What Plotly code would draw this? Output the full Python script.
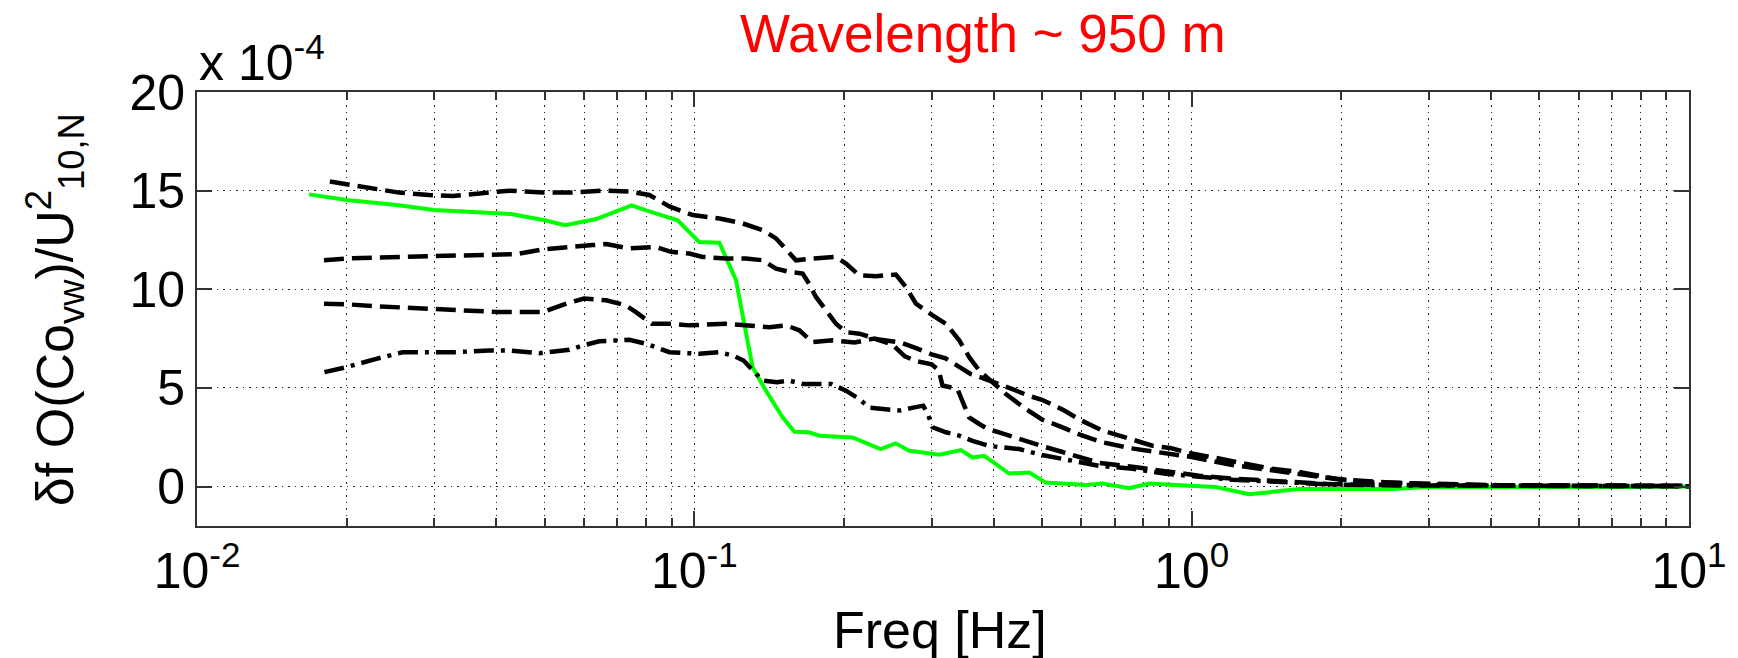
import plotly.graph_objects as go

# Frequency axis values [Hz] and normalised co-spectrum values (units of 1e-4)
freq_green = [0.0168, 0.020, 0.0252, 0.030, 0.040, 0.0428, 0.050, 0.055, 0.0635, 0.0748,
              0.080, 0.0926, 0.0977, 0.1023, 0.1123, 0.1213, 0.126, 0.131, 0.1393, 0.1505,
              0.1589, 0.170, 0.1784, 0.208, 0.237, 0.254, 0.2705, 0.311, 0.3436, 0.3625,
              0.3827, 0.4296, 0.4715, 0.509, 0.613, 0.662, 0.749, 0.821, 0.989, 1.118,
              1.305, 1.432, 1.645, 1.98, 2.53, 2.96, 4.0, 5.5, 7.5, 10.0]
cov_green = [14.81, 14.53, 14.27, 14.02, 13.85, 13.81, 13.5, 13.25, 13.56, 14.25,
             14.0, 13.5, 12.9, 12.4, 12.36, 10.46, 8.25, 6.05, 4.86, 3.51,
             2.78, 2.75, 2.58, 2.49, 1.9, 2.19, 1.81, 1.61, 1.85, 1.47,
             1.56, 0.66, 0.71, 0.2, 0.08, 0.15, -0.08, 0.15, 0.04, -0.02,
             -0.39, -0.3, -0.13, -0.13, -0.13, -0.02, -0.03, 0.0, -0.02, 0.0]

freq_a = [0.0185, 0.020, 0.0229, 0.0255, 0.0293, 0.0327, 0.037, 0.0425, 0.0496, 0.0561,
          0.0654, 0.074, 0.0812, 0.0891, 0.0992, 0.1123, 0.125, 0.1372, 0.146, 0.1529,
          0.1601, 0.1729, 0.1927, 0.2018, 0.2146, 0.2318, 0.2542, 0.2663, 0.279, 0.3014,
          0.3206, 0.3409, 0.357, 0.374, 0.398, 0.423, 0.46, 0.50, 0.55, 0.60,
          0.66, 0.75, 0.85, 1.0, 1.2, 1.5, 2.0, 2.5, 3.0, 4.0, 6.0, 10.0]
cov_a = [15.46, 15.32, 15.12, 14.9, 14.78, 14.73, 14.86, 15.0, 14.9, 14.9,
         15.0, 14.95, 14.78, 14.2, 13.76, 13.59, 13.34, 13.0, 12.58, 11.98,
         11.47, 11.56, 11.64, 11.3, 10.71, 10.66, 10.75, 10.12, 9.27, 8.68,
         8.25, 7.41, 6.56, 5.88, 5.29, 4.69, 4.0, 3.4, 3.0, 2.6,
         2.25, 1.95, 1.75, 1.5, 1.1, 0.75, 0.35, 0.2, 0.12, 0.06, 0.03, 0.02]

freq_b = [0.018, 0.020, 0.0229, 0.0259, 0.0296, 0.0332, 0.040, 0.0437, 0.0496, 0.0556,
          0.0625, 0.0665, 0.074, 0.0835, 0.0898, 0.0977, 0.1039, 0.1158, 0.127, 0.1372,
          0.146, 0.1552, 0.1651, 0.170, 0.1756, 0.184, 0.1927, 0.2018, 0.2146, 0.235,
          0.26, 0.28, 0.30, 0.32, 0.34, 0.36, 0.38, 0.41, 0.44, 0.47,
          0.50, 0.55, 0.60, 0.66, 0.737, 0.834, 0.906, 0.989, 1.118, 1.305,
          1.432, 1.645, 1.92, 2.24, 3.05, 4.15, 6.59, 10.0]
cov_b = [11.47, 11.56, 11.61, 11.64, 11.68, 11.71, 11.71, 11.78, 12.02, 12.15,
         12.24, 12.29, 12.07, 12.15, 11.9, 11.81, 11.64, 11.56, 11.56, 11.47,
         11.05, 10.88, 10.8, 10.29, 9.61, 8.93, 8.25, 7.83, 7.75, 7.45,
         7.3, 7.0, 6.7, 6.5, 6.1, 5.7, 5.5, 5.2, 4.9, 4.6,
         4.4, 3.9, 3.35, 2.85, 2.5, 2.07, 1.95, 1.7, 1.45, 1.1,
         0.92, 0.74, 0.42, 0.22, 0.13, 0.07, 0.05, 0.04]

freq_c = [0.018, 0.020, 0.0229, 0.0259, 0.0296, 0.0332, 0.040, 0.0449, 0.0496, 0.0553,
          0.060, 0.0665, 0.0727, 0.0762, 0.0822, 0.0898, 0.0977, 0.1158, 0.1415, 0.1529,
          0.1626, 0.1729, 0.1897, 0.21, 0.23, 0.25, 0.265, 0.28, 0.30, 0.31,
          0.3155, 0.338, 0.346, 0.357, 0.374, 0.39, 0.41, 0.45, 0.50, 0.55,
          0.60, 0.652, 0.760, 0.887, 1.035, 1.208, 1.41, 1.645, 1.92, 2.5,
          3.5, 5.0, 10.0]
cov_c = [9.27, 9.24, 9.14, 9.07, 9.0, 8.97, 8.85, 8.85, 8.85, 9.27,
         9.53, 9.44, 9.19, 8.85, 8.25, 8.25, 8.17, 8.25, 8.08, 8.17,
         7.92, 7.32, 7.41, 7.3, 7.5, 7.2, 6.6, 6.35, 6.2, 5.9,
         5.12, 4.95, 4.3, 3.5, 3.17, 2.9, 2.75, 2.4, 2.05, 1.75,
         1.45, 1.2, 1.0, 0.75, 0.55, 0.4, 0.3, 0.2, 0.12, 0.08,
         0.05, 0.03, 0.02]

freq_d = [0.01804, 0.01995, 0.02293, 0.0259, 0.0285, 0.0332, 0.0387, 0.0425, 0.0488, 0.0561,
          0.0596, 0.0644, 0.074, 0.080, 0.0891, 0.0977, 0.1023, 0.1123, 0.1195, 0.1256,
          0.130, 0.1372, 0.1467, 0.1552, 0.1651, 0.1784, 0.1885, 0.2018, 0.2146, 0.2247,
          0.2392, 0.259, 0.2755, 0.2885, 0.2948, 0.3014, 0.3206, 0.3409, 0.3625, 0.39,
          0.41, 0.45, 0.50, 0.55, 0.60, 0.652, 0.76, 0.887, 1.035, 1.208,
          1.41, 1.645, 1.92, 2.5, 3.5, 5.0, 10.0]
cov_d = [5.80, 6.05, 6.47, 6.81, 6.81, 6.81, 6.9, 6.9, 6.76, 6.93,
         7.15, 7.36, 7.44, 7.24, 6.81, 6.76, 6.73, 6.81, 6.64, 6.39,
         5.97, 5.37, 5.29, 5.37, 5.2, 5.2, 5.2, 4.86, 4.44, 4.0,
         3.93, 3.85, 4.0, 4.1, 3.68, 3.0, 2.75, 2.58, 2.32, 2.07,
         2.0, 1.9, 1.6, 1.4, 1.25, 1.05, 0.9, 0.65, 0.5, 0.35,
         0.27, 0.18, 0.1, 0.06, 0.04, 0.03, 0.02]

x_major = [0.01, 0.1, 1, 10]
x_major_text = ["10<sup>-2</sup>", "10<sup>-1</sup>", "10<sup>0</sup>", "10<sup>1</sup>"]
x_minor = [m * d for d in (0.01, 0.1, 1) for m in range(2, 10)]
y_ticks = [0, 5, 10, 15, 20]

FONT = "Liberation Sans, Arial, Helvetica, sans-serif"
DASH = "20px,8px"
DASHDOT = "20px,7px,4px,7px"

fig = go.Figure()

fig.add_trace(go.Scatter(x=freq_green, y=cov_green, mode="lines",
                         line=dict(color="#00ff00", width=4), hoverinfo="skip"))
fig.add_trace(go.Scatter(x=freq_a, y=cov_a, mode="lines",
                         line=dict(color="black", width=4.5, dash=DASH), hoverinfo="skip"))
fig.add_trace(go.Scatter(x=freq_b, y=cov_b, mode="lines",
                         line=dict(color="black", width=4.5, dash=DASH), hoverinfo="skip"))
fig.add_trace(go.Scatter(x=freq_c, y=cov_c, mode="lines",
                         line=dict(color="black", width=4.5, dash=DASH), hoverinfo="skip"))
fig.add_trace(go.Scatter(x=freq_d, y=cov_d, mode="lines",
                         line=dict(color="black", width=4.5, dash=DASHDOT), hoverinfo="skip"))

grid = dict(showgrid=True, gridcolor="#222222", gridwidth=1, griddash="1.5px,5px")

fig.update_xaxes(
    type="log", range=[-2, 1],
    tickmode="array", tickvals=x_major, ticktext=x_major_text,
    ticks="inside", ticklen=15, tickwidth=1.5, tickcolor="#333333",
    showline=True, linecolor="#333333", linewidth=2, mirror="ticks",
    zeroline=False,
    tickfont=dict(family=FONT, size=50, color="black"),
    minor=dict(tickmode="array", tickvals=x_minor, ticks="inside", ticklen=8,
               tickwidth=1.5, tickcolor="#333333", **grid),
    **grid,
)
fig.update_yaxes(
    range=[-2, 20], tickmode="array", tickvals=y_ticks,
    ticks="inside", ticklen=15, tickwidth=1.5, tickcolor="#333333",
    showline=True, linecolor="#333333", linewidth=2, mirror="ticks",
    zeroline=False,
    tickfont=dict(family=FONT, size=50, color="black"),
    **grid,
)

fig.update_layout(
    width=1738, height=658,
    margin=dict(l=197, r=49, t=92, b=132),
    plot_bgcolor="white", paper_bgcolor="white",
    showlegend=False,
    annotations=[
        dict(text="Wavelength ~ 950 m", xref="paper", yref="paper",
             x=0.527, y=1.135, xanchor="center", yanchor="middle", showarrow=False,
             font=dict(family=FONT, size=53, color="#ff0000")),
        dict(text="x 10<sup>-4</sup>", xref="paper", yref="paper",
             x=0.0, y=1.075, xanchor="left", yanchor="middle", showarrow=False,
             font=dict(family=FONT, size=50, color="black")),
        dict(text="Freq [Hz]", xref="paper", yref="paper",
             x=0.498, y=-0.24, xanchor="center", yanchor="middle", showarrow=False,
             font=dict(family=FONT, size=52, color="black")),
        dict(text="δf O(Co<sub>vw</sub>)/U<sup>2</sup><sub>10,N</sub>",
             xref="paper", yref="paper", textangle=-90,
             x=-0.095, y=0.498, xanchor="center", yanchor="middle", showarrow=False,
             font=dict(family=FONT, size=52, color="black")),
    ],
)

fig.write_html("out.html")
